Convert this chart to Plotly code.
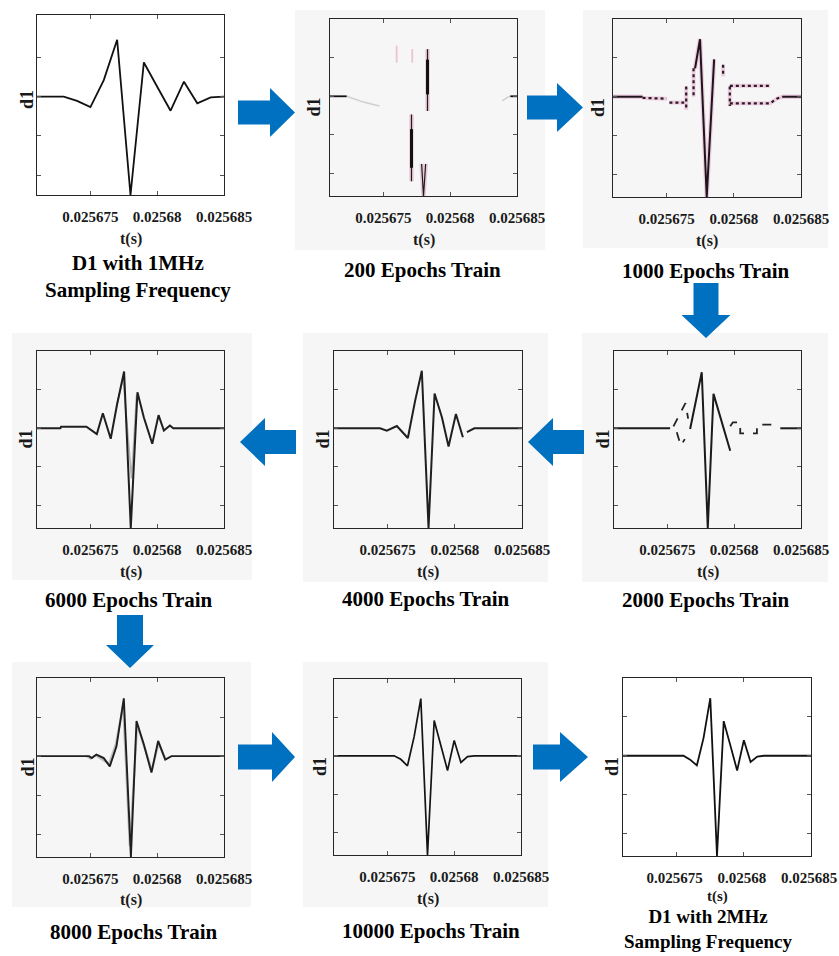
import plotly.graph_objects as go

# Canvas size in pixels
W, H = 839, 956
SERIF = "Liberation Serif"
ARROW_BLUE = "#0070C0"
PANEL_GREY = "#f6f6f6"

# ---- shared axes -----------------------------------------------------------
T_START = 0.025671          # left edge of every time window (s)
T_END = 0.025685            # right edge of every time window (s)
X_TICK_VALS = [0.025675, 0.02568, 0.025685]
X_TICK_TEXT = ["0.025675", "0.02568", "0.025685"]
Y_TICK_VALS = [-2, -1, 0, 1]

# ---- signals (time in microseconds after T_START, d1 in arbitrary units) ----
# D1 detail sampled at 1 MHz
T_1MHZ = [0, 1, 2, 3, 4, 5, 6, 7, 8, 9, 10, 11, 12, 13, 14]
D1_1MHZ = [0, 0, 0, -0.11, -0.27, 0.42, 1.45, -2.51, 0.87, 0.25, -0.36, 0.38, -0.17, -0.02, 0]

# D1 detail sampled at 2 MHz
T_2MHZ = [0.0, 0.5, 1.0, 1.5, 2.0, 2.5, 3.0, 3.5, 4.0, 4.5, 5.0, 5.5, 6.0, 6.5, 7.0,
          7.5, 8.0, 8.5, 9.0, 9.5, 10.0, 10.5, 11.0, 11.5, 12.0, 12.5, 13.0, 13.5, 14.0]
D1_2MHZ = [0, 0, 0, 0, 0, 0, 0, 0, 0, 0, -0.10, -0.25, 0.46, 1.48, -2.58,
           0.89, 0.26, -0.38, 0.40, -0.16, -0.02, 0, 0, 0, 0, 0, 0, 0, 0]

# network output after 10000 epochs (on the 2 MHz grid)
D1_E10000 = [0, 0, 0, 0, 0, 0, 0, 0, 0, 0, -0.09, -0.26, 0.50, 1.49, -2.58,
             0.92, 0.27, -0.38, 0.40, -0.17, -0.02, 0, 0, 0, 0, 0, 0, 0, 0]

# after 8000 epochs
T_E8000 = [0, 3.9, 4.1, 4.45, 5.0, 5.45, 5.95, 6.5, 7.03, 7.45, 8.0, 8.57, 9.07, 9.6, 10.07, 14]
D1_E8000 = [0, 0, -0.05, 0.04, -0.05, -0.26, 0.25, 1.48, -2.58, 0.90, 0.30, -0.42, 0.39, -0.09, 0.0, 0]
T_E8000_GHOST = [3.7, 4.0, 4.4, 5.4, 5.9, 6.45, 6.95, 7.5, 8.6, 9.1, 9.6]
D1_E8000_GHOST = [0, -0.06, 0.02, -0.20, 0.30, 1.30, -2.30, 0.80, -0.36, 0.33, -0.06]

# after 6000 epochs
T_E6000 = [0, 1.75, 1.8, 3.7, 4.48, 4.93, 5.52, 6.0, 6.52, 7.02, 7.52, 8.0, 8.63, 9.1, 9.5, 9.95, 10.2, 14]
D1_E6000 = [0, 0, 0.04, 0.04, -0.15, 0.39, -0.27, 0.63, 1.47, -2.58, 0.93, 0.28, -0.40, 0.34, -0.06, 0.07, 0, 0]
T_E6000_GHOST = [5.95, 6.45, 7.08, 7.45]
D1_E6000_GHOST = [0.55, 1.30, -1.30, 0.85]

# after 4000 epochs
T_E4000 = [0, 3.43, 3.93, 4.68, 5.5, 6.04, 6.54, 7.04, 7.49, 8.04, 8.53, 9.08, 9.6, None, 9.9, 10.45, 14]
D1_E4000 = [0, 0, -0.06, 0.06, -0.25, 0.71, 1.49, -2.58, 0.90, 0.28, -0.47, 0.37, -0.23, None, -0.10, 0, 0]

# after 2000 epochs: solid part and broken (dashed) pieces
T_E2000 = [0, 4.2, None, 5.7, 6.57, 7.02, 7.45, 8.7, None, 12.45, 14]
D1_E2000 = [0, 0, None, -0.02, 1.45, -2.58, 0.89, -0.58, None, 0, 0]
T_E2000_DASH = [4.45, 5.35, 5.55, None, 4.7, 5.0, 5.3, None,
                8.7, 8.9, 9.45, 9.45, 10.7, 10.7, 12.45]
D1_E2000_DASH = [0.05, 0.65, 0.25, None, -0.10, -0.45, -0.28, None,
                 0.05, 0.155, 0.155, -0.13, -0.13, 0.095, 0.095]

# after 1000 epochs: solid part and dotted steps
T_E1000 = [0, 2.2, None, 6.11, 6.48, 6.98, 7.53, None, 12.6, 14]
D1_E1000 = [0, 0, None, 0.73, 1.48, -2.58, 0.96, None, 0, 0]
T_E1000_DOT = [2.2, 4.0, None, 4.2, 5.3, None, 5.45, 5.45, None, 6.0, 6.0, None,
               8.2, 8.2, None, 8.7, 8.7, None, 8.7, 11.7, None, 8.7, 11.7, 12.2, 12.6]
D1_E1000_DOT = [-0.03, -0.05, None, -0.15, -0.15, None, 0.26, -0.34, None, 0.73, 0.0, None,
                0.82, 0.52, None, 0.26, -0.24, None, 0.28, 0.28, None, -0.17, -0.17, -0.05, 0]

# after 200 epochs: only fragments of the waveform
T_E200 = [0, 1.25, None, 13.5, 14]
D1_E200 = [0, 0, None, 0, 0]
T_E200_FAINT = [1.25, 2.5, 3.7, None, 12.9, 13.3, 13.5]
D1_E200_FAINT = [0, -0.15, -0.25, None, -0.12, -0.02, 0]
T_E200_SPIKES = [7.3, 7.3, None, 6.1, 6.1, None, 6.86, 7.0, 7.16]
D1_E200_SPIKES = [1.22, -0.38, None, -0.47, -2.2, None, -1.75, -2.58, -1.75]
T_E200_CORE = [7.3, 7.3, None, 6.1, 6.1]
D1_E200_CORE = [0.95, 0.05, None, -0.85, -1.85]
T_E200_PINK = [4.99, 4.99, None, 6.16, 6.16]
D1_E200_PINK = [1.31, 0.87, None, 1.22, 0.87]


def px(x):
    return x / W


def py(y):
    return 1 - y / H


def to_s(us):
    return [None if u is None else T_START + u * 1e-6 for u in us]


# ---- panel layout (pixel boxes: left, top, right, bottom) -------------------
PANELS = [
    dict(box=(37, 15, 224, 195), yr=(-2.51, 2.08), bg=None, ylab_dx=10, ylab_dy=-5,
         caption="D1 with 1MHz<br>Sampling Frequency", cap_x=138, cap_y=276, cap_size=21,
         t_dy=44, t_size=16),
    dict(box=(330, 19, 517, 196), yr=(-2.58, 2.0), bg=(295, 10, 545, 250), ylab_dx=17, ylab_dy=0,
         caption="200 Epochs Train", cap_x=422, cap_y=270, cap_size=21, t_dy=44, t_size=16),
    dict(box=(613, 19, 801, 197), yr=(-2.58, 2.0), bg=(583, 10, 828, 248), ylab_dx=15, ylab_dy=0,
         caption="1000 Epochs Train", cap_x=706, cap_y=271, cap_size=21, t_dy=44, t_size=16),
    dict(box=(37, 351, 224, 528), yr=(-2.58, 2.0), bg=(12, 333, 252, 580), ylab_dx=12, ylab_dy=0,
         caption="6000 Epochs Train", cap_x=129, cap_y=600, cap_size=21, t_dy=44, t_size=16),
    dict(box=(334, 351, 522, 528), yr=(-2.58, 2.0), bg=(303, 333, 548, 582), ylab_dx=12, ylab_dy=0,
         caption="4000 Epochs Train", cap_x=426, cap_y=599, cap_size=21, t_dy=44, t_size=16),
    dict(box=(614, 351, 801, 528), yr=(-2.58, 2.0), bg=(582, 333, 828, 582), ylab_dx=12, ylab_dy=0,
         caption="2000 Epochs Train", cap_x=706, cap_y=600, cap_size=21, t_dy=44, t_size=16),
    dict(box=(37, 678, 224, 857), yr=(-2.58, 2.0), bg=(12, 662, 251, 907), ylab_dx=10, ylab_dy=0,
         caption="8000 Epochs Train", cap_x=134, cap_y=932, cap_size=21, t_dy=43, t_size=16),
    dict(box=(334, 679, 521, 855), yr=(-2.58, 2.0), bg=(303, 662, 548, 907), ylab_dx=14, ylab_dy=0,
         caption="10000 Epochs Train", cap_x=431, cap_y=931, cap_size=21, t_dy=44, t_size=16),
    dict(box=(623, 678, 811, 856), yr=(-2.58, 2.0), bg=None, ylab_dx=11, ylab_dy=0,
         caption="D1 with 2MHz<br>Sampling Frequency", cap_x=708, cap_y=929, cap_size=19,
         t_dy=40, t_size=15),
]

fig = go.Figure()


def axis_ids(i):
    return ("x", "y") if i == 0 else (f"x{i + 1}", f"y{i + 1}")


def add_curve(i, t_us, d1, color="#111111", width=1.8, dash="solid"):
    xa, ya = axis_ids(i)
    fig.add_trace(go.Scatter(
        x=to_s(t_us), y=d1, xaxis=xa, yaxis=ya, mode="lines",
        line=dict(color=color, width=width, dash=dash),
        connectgaps=False, showlegend=False, hoverinfo="skip"))


# 1 MHz reference
add_curve(0, T_1MHZ, D1_1MHZ, "#111111", 1.8)
# 200 epochs
add_curve(1, T_E200_FAINT, D1_E200_FAINT, "#cfcfcf", 1.5)
add_curve(1, T_E200_PINK, D1_E200_PINK, "rgba(225,130,170,0.45)", 1.8)
add_curve(1, T_E200_SPIKES, D1_E200_SPIKES, "rgba(200,70,130,0.25)", 4.5)
add_curve(1, T_E200_SPIKES, D1_E200_SPIKES, "#1c1c1c", 1.2)
add_curve(1, T_E200_CORE, D1_E200_CORE, "#111111", 3.0)
add_curve(1, T_E200, D1_E200, "#111111", 1.8)
# 1000 epochs
add_curve(2, T_E1000_DOT, D1_E1000_DOT, "rgba(215,100,160,0.28)", 4.0)
add_curve(2, T_E1000, D1_E1000, "rgba(215,100,160,0.28)", 4.5)
add_curve(2, T_E1000_DOT, D1_E1000_DOT, "#2b1b2a", 2.2, "dot")
add_curve(2, T_E1000, D1_E1000, "#1e141d", 2.0)
# 6000 epochs
add_curve(3, T_E6000_GHOST, D1_E6000_GHOST, "rgba(110,110,110,0.5)", 1.6)
add_curve(3, T_E6000, D1_E6000, "#1f1f1f", 2.0)
# 4000 epochs
add_curve(4, T_E4000, D1_E4000, "#1f1f1f", 2.0)
# 2000 epochs
add_curve(5, T_E2000_DASH, D1_E2000_DASH, "#222222", 1.8, "dash")
add_curve(5, T_E2000, D1_E2000, "#1a1a1a", 2.0)
# 8000 epochs
add_curve(6, T_E8000_GHOST, D1_E8000_GHOST, "rgba(120,120,120,0.45)", 2.2)
add_curve(6, T_E8000, D1_E8000, "#1f1f1f", 1.9)
# 10000 epochs
add_curve(7, T_2MHZ, D1_E10000, "#141414", 1.7)
# 2 MHz reference
add_curve(8, T_2MHZ, D1_2MHZ, "#111111", 1.8)

layout = dict(
    template="none",
    width=W, height=H, margin=dict(l=0, r=0, t=0, b=0, pad=0, autoexpand=False),
    paper_bgcolor="white", plot_bgcolor="rgba(0,0,0,0)",
    showlegend=False,
)
shapes = []
annotations = []

for i, p in enumerate(PANELS):
    x0, y0, x1, y1 = p["box"]
    sfx = "" if i == 0 else str(i + 1)
    last_col_edge = x1 + 30 > W
    layout["xaxis" + sfx] = dict(
        domain=[px(x0), px(x1)], range=[T_START, T_END], anchor="y" + sfx,
        automargin=False,
        tickmode="array", tickvals=X_TICK_VALS, ticktext=X_TICK_TEXT,
        ticks="inside", ticklen=4, tickwidth=1, tickcolor="#555",
        showline=True, linecolor="#262626", linewidth=1.3, mirror="ticks",
        showgrid=False, zeroline=False, fixedrange=True,
        ticklabelstandoff=8,
        ticklabeloverflow="allow",
        ticklabelshift=-2 if last_col_edge else 0,
        tickfont=dict(family=SERIF, size=15, color="#1a1a1a", weight="bold"),
    )
    layout["yaxis" + sfx] = dict(
        domain=[py(y1), py(y0)], range=list(p["yr"]), anchor="x" + sfx,
        automargin=False,
        tickmode="array", tickvals=Y_TICK_VALS, showticklabels=False,
        ticks="inside", ticklen=4, tickwidth=1, tickcolor="#555",
        showline=True, linecolor="#262626", linewidth=1.3, mirror="ticks",
        showgrid=False, zeroline=False, fixedrange=True,
    )
    if p["bg"]:
        bx0, by0, bx1, by1 = p["bg"]
        shapes.append(dict(type="rect", xref="paper", yref="paper", layer="below",
                           x0=px(bx0), x1=px(bx1), y0=py(by1), y1=py(by0),
                           fillcolor=PANEL_GREY, line=dict(width=0)))
    # axis titles
    annotations.append(dict(text="<b>t(s)</b>", xref="paper", yref="paper",
                            x=px((x0 + x1) / 2), y=py(y1 + p["t_dy"]),
                            xanchor="center", yanchor="middle", showarrow=False,
                            font=dict(family=SERIF, size=p["t_size"], color="#1a1a1a")))
    annotations.append(dict(text="<b>d1</b>", xref="paper", yref="paper",
                            x=px(x0 - p["ylab_dx"]), y=py((y0 + y1) / 2 + p["ylab_dy"]),
                            xanchor="center", yanchor="middle", textangle=-90, showarrow=False,
                            font=dict(family=SERIF, size=18, color="#1a1a1a")))
    annotations.append(dict(text=f"<b>{p['caption']}</b>", xref="paper", yref="paper",
                            x=px(p["cap_x"]), y=py(p["cap_y"]),
                            xanchor="center", yanchor="middle", showarrow=False,
                            font=dict(family=SERIF, size=p["cap_size"], color="black")))


def block_arrow(direction, tip, head_len, head_w, shaft_len, shaft_w):
    """Polygon of a block arrow, given in pixel units, returned as a paper path."""
    tx, ty = tip
    hw, sw = head_w / 2, shaft_w / 2
    if direction == "right":
        pts = [(tx, ty), (tx - head_len, ty - hw), (tx - head_len, ty - sw),
               (tx - head_len - shaft_len, ty - sw), (tx - head_len - shaft_len, ty + sw),
               (tx - head_len, ty + sw), (tx - head_len, ty + hw)]
    elif direction == "left":
        pts = [(tx, ty), (tx + head_len, ty - hw), (tx + head_len, ty - sw),
               (tx + head_len + shaft_len, ty - sw), (tx + head_len + shaft_len, ty + sw),
               (tx + head_len, ty + sw), (tx + head_len, ty + hw)]
    else:  # down
        pts = [(tx, ty), (tx - hw, ty - head_len), (tx - sw, ty - head_len),
               (tx - sw, ty - head_len - shaft_len), (tx + sw, ty - head_len - shaft_len),
               (tx + sw, ty - head_len), (tx + hw, ty - head_len)]
    path = "M " + " L ".join(f"{px(x):.5f},{py(y):.5f}" for x, y in pts) + " Z"
    return dict(type="path", xref="paper", yref="paper", path=path,
                fillcolor=ARROW_BLUE, line=dict(width=0), layer="above")


ARROWS = [
    ("right", (295, 112.5), 25, 49, 32, 24),
    ("right", (583, 107.5), 26, 49, 30, 24),
    ("down", (706, 338), 23, 49, 32, 25),
    ("left", (240, 442), 25, 48, 31, 24),
    ("left", (528, 442), 25, 48, 31, 24),
    ("down", (130, 668), 23, 48, 30, 26),
    ("right", (295, 757), 23, 50, 34, 25),
    ("right", (588, 757), 28, 50, 27, 25),
]
for a in ARROWS:
    shapes.append(block_arrow(*a))

layout["shapes"] = shapes
layout["annotations"] = annotations
fig.update_layout(**layout)

fig.write_html("out.html")
